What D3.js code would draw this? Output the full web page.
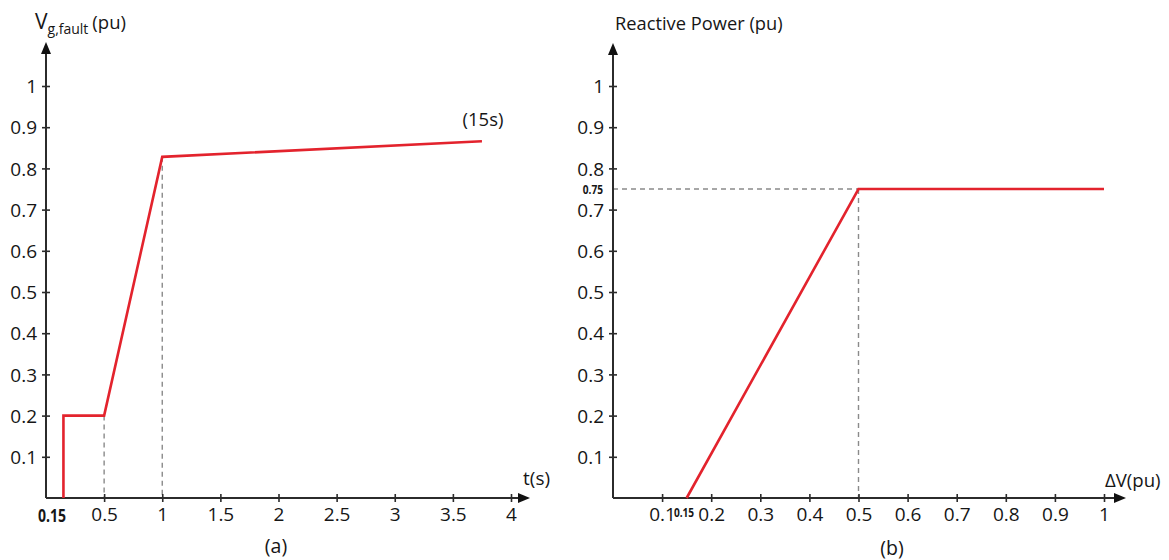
<!DOCTYPE html>
<html>
<head>
<meta charset="utf-8">
<script src="https://cdn.jsdelivr.net/npm/d3@7"></script>
<style>
  html, body { margin: 0; padding: 0; background: #fff; }
  svg { display: block; }
  text { font-family: "Open Sans", "Noto Sans", sans-serif; fill: #161616; }
  .bold-cond { font-weight: bold; }
</style>
</head>
<body>
<svg id="chart" width="1169" height="560"></svg>
<script>
// Panel (a): grid voltage during fault vs time
const timeTicks = [0.5, 1, 1.5, 2, 2.5, 3, 3.5, 4];
const puTicks = [0.1, 0.2, 0.3, 0.4, 0.5, 0.6, 0.7, 0.8, 0.9, 1];
const faultT = [0.15, 0.15, 0.5, 1, 3.75];
const faultV = [0, 0.2, 0.2, 0.828, 0.866];

// Panel (b): reactive power support vs voltage dip
const dvTicks = [0.1, 0.2, 0.3, 0.4, 0.5, 0.6, 0.7, 0.8, 0.9, 1];
const dvValues = [0.15, 0.5, 1];
const qValues = [0, 0.75, 0.75];

const RED = "#e3232d";
const AXIS = "#2b2b2b";
const DASH = "#8a8a8a";
const TICK_FONT = "19px";

const svg = d3.select("#chart");

const yA = d3.scaleLinear().domain([0, 1]).range([498, 86]);
const xA = d3.scaleLinear().domain([0, 4]).range([46, 511]);
const xB = d3.scaleLinear().domain([0, 1]).range([613, 1104]);
const yB = yA.copy();

function arrowAxes(g, x0, y0, xEnd, yTop) {
  g.append("line").attr("x1", x0).attr("y1", y0).attr("x2", xEnd - 6).attr("y2", y0)
    .attr("stroke", AXIS).attr("stroke-width", 2);
  g.append("line").attr("x1", x0).attr("y1", y0).attr("x2", x0).attr("y2", yTop + 6)
    .attr("stroke", AXIS).attr("stroke-width", 2);
  g.append("path").attr("d", `M${xEnd},${y0} L${xEnd - 12},${y0 - 5} L${xEnd - 12},${y0 + 5} Z`).attr("fill", "#111");
  g.append("path").attr("d", `M${x0},${yTop} L${x0 - 5},${yTop + 12} L${x0 + 5},${yTop + 12} Z`).attr("fill", "#111");
}

function styleAxis(sel, orient) {
  sel.select(".domain").remove();
  sel.selectAll(".tick line").attr("stroke", AXIS).attr("stroke-width", 1.6);
  sel.selectAll(".tick text").style("font-size", TICK_FONT).attr("fill", "#161616");
  if (orient === "bottom") {
    sel.selectAll(".tick line").attr("y1", -4).attr("y2", 4);
    sel.selectAll(".tick text").attr("y", 10).attr("dy", "0.71em");
  } else {
    sel.selectAll(".tick line").attr("x1", -4).attr("x2", 4);
    sel.selectAll(".tick text").attr("x", -9).attr("dy", "0.35em");
  }
}

// narrow bold annotation used for the special break-point values
function condensedLabel(g, x, y, size, anchor, txt) {
  g.append("text").attr("class", "bold-cond")
    .attr("transform", `translate(${x},${y}) scale(0.78,1)`)
    .attr("dy", "0.35em").attr("text-anchor", anchor)
    .style("font-size", size).text(txt);
}

const fmt = d => String(d);

// ---------- Panel (a) ----------
const ga = svg.append("g");

ga.append("line").attr("x1", xA(0.5)).attr("x2", xA(0.5)).attr("y1", yA(faultV[2])).attr("y2", yA(0))
  .attr("stroke", DASH).attr("stroke-width", 1.4).attr("stroke-dasharray", "5,4");
ga.append("line").attr("x1", xA(1)).attr("x2", xA(1)).attr("y1", yA(faultV[3])).attr("y2", yA(0))
  .attr("stroke", DASH).attr("stroke-width", 1.4).attr("stroke-dasharray", "5,4");

ga.append("g").attr("transform", `translate(0,${yA(0)})`)
  .call(d3.axisBottom(xA).tickValues(timeTicks).tickFormat(fmt))
  .call(s => styleAxis(s, "bottom"));
ga.append("g").attr("transform", `translate(${xA(0)},0)`)
  .call(d3.axisLeft(yA).tickValues(puTicks).tickFormat(fmt))
  .call(s => styleAxis(s, "left"));

arrowAxes(ga, xA(0), yA(0), 530, 42);

const lineA = d3.line().x((d, i) => xA(faultT[i])).y(d => yA(d));
ga.append("path").datum(faultV).attr("d", lineA)
  .attr("fill", "none").attr("stroke", RED).attr("stroke-width", 2.6).attr("stroke-linejoin", "miter");

condensedLabel(ga, 52, 516, "18px", "middle", "0.15");

ga.append("text").attr("x", 483).attr("y", 120).attr("dy", "0.35em")
  .attr("text-anchor", "middle").style("font-size", "18.5px").text("(15s)");

ga.append("text").attr("x", 523).attr("y", 478).attr("dy", "0.35em")
  .style("font-size", "19px").text("t(s)");

const ylabA = ga.append("text").attr("x", 35).attr("y", 29).style("font-size", "21px");
ylabA.append("tspan").text("V");
ylabA.append("tspan").attr("dy", 5).style("font-size", "14px").text("g,fault");
ylabA.append("tspan").attr("dy", -5).attr("dx", 4).style("font-size", "18.5px").text("(pu)");

ga.append("text").attr("x", 276).attr("y", 546).attr("dy", "0.35em")
  .attr("text-anchor", "middle").style("font-size", "19.5px").text("(a)");

// ---------- Panel (b) ----------
const gb = svg.append("g");

gb.append("line").attr("x1", xB(0)).attr("x2", xB(dvValues[1])).attr("y1", yB(qValues[1])).attr("y2", yB(qValues[1]))
  .attr("stroke", DASH).attr("stroke-width", 1.4).attr("stroke-dasharray", "5,4");
gb.append("line").attr("x1", xB(dvValues[1])).attr("x2", xB(dvValues[1])).attr("y1", yB(qValues[1])).attr("y2", yB(0))
  .attr("stroke", DASH).attr("stroke-width", 1.4).attr("stroke-dasharray", "5,4");

gb.append("g").attr("transform", `translate(0,${yB(0)})`)
  .call(d3.axisBottom(xB).tickValues(dvTicks).tickFormat(fmt))
  .call(s => styleAxis(s, "bottom"));
gb.append("g").attr("transform", `translate(${xB(0)},0)`)
  .call(d3.axisLeft(yB).tickValues(puTicks).tickFormat(fmt))
  .call(s => styleAxis(s, "left"));

arrowAxes(gb, xB(0), yB(0), 1126, 43);

const lineB = d3.line().x((d, i) => xB(dvValues[i])).y(d => yB(d));
gb.append("path").datum(qValues).attr("d", lineB)
  .attr("fill", "none").attr("stroke", RED).attr("stroke-width", 2.6);

condensedLabel(gb, 684, 512, "13px", "middle", "0.15");
condensedLabel(gb, 603, yB(0.75), "13px", "end", "0.75");

gb.append("text").attr("x", 1105).attr("y", 480).attr("dy", "0.35em")
  .style("font-size", "18.6px").text("ΔV(pu)");

gb.append("text").attr("x", 615).attr("y", 24).attr("dy", "0.35em")
  .style("font-size", "18.3px").text("Reactive Power (pu)");

gb.append("text").attr("x", 892).attr("y", 548).attr("dy", "0.35em")
  .attr("text-anchor", "middle").style("font-size", "19.5px").text("(b)");
</script>
</body>
</html>
